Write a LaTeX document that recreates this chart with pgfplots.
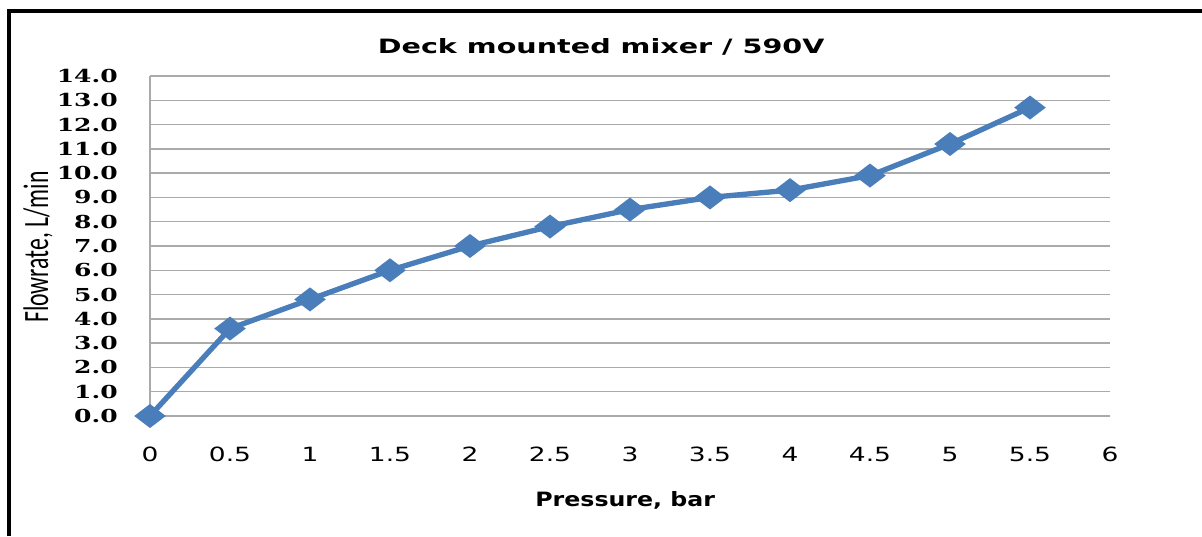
\documentclass[border=0pt]{standalone}
\usepackage{fontspec}
\usepackage{graphicx}
\usepackage{pgfplots}
\pgfplotsset{compat=1.18}
\newfontfamily\titlefont[FakeStretch=1.45]{DejaVu Sans}
\newfontfamily\xtickfont[FakeStretch=1.35]{DejaVu Sans}
\newfontfamily\ytickfont[FakeStretch=1.4]{DejaVu Serif}
\newfontfamily\xlabfont[FakeStretch=1.2]{DejaVu Sans}
\newfontfamily\ylabfont{Carlito}
\definecolor{excelblue}{HTML}{4A7EBB}
\definecolor{gridgray}{HTML}{AAAAAA}
\begin{document}
\begin{tikzpicture}
\useasboundingbox (0,0) rectangle (901.5pt,402pt);
\draw[line width=3pt, line join=miter] (6.4pt,0pt) -- (6.4pt,393.75pt) -- (902pt,393.75pt);
\begin{axis}[
  at={(112.5pt,90pt)}, anchor=south west,
  scale only axis, width=720pt, height=255pt,
  xmin=0, xmax=6, ymin=0, ymax=14,
  xtick={0,0.5,...,6}, ytick={0,1,...,14},
  xticklabels={0,0.5,1,1.5,2,2.5,3,3.5,4,4.5,5,5.5,6},
  yticklabel={\pgfmathprintnumber[fixed,fixed zerofill,precision=1]{\tick}},
  /pgf/number format/assume math mode=true,
  major tick length=0pt,
  axis lines*=left,
  axis line style={gridgray, line width=1pt},
  ymajorgrids, major grid style={gridgray, line width=1pt},
  xticklabel style={font=\xtickfont\fontsize{14.7pt}{17pt}\selectfont, anchor=north, inner sep=0pt, yshift=-23pt},
  yticklabel style={font=\ytickfont\bfseries\fontsize{13.4pt}{16pt}\selectfont, anchor=east, inner sep=0pt, xshift=-24pt},
  title={Deck mounted mixer / 590V},
  title style={font=\titlefont\bfseries\fontsize{14.8pt}{17pt}\selectfont, at={(axis description cs:0.47,1.062)}, anchor=center},
  xlabel={Pressure, bar},
  xlabel style={font=\xlabfont\bfseries\fontsize{14.8pt}{17pt}\selectfont, at={(axis description cs:0.495,-0.247)}, anchor=center},
  ylabel={\scalebox{1}[1.5]{Flowrate, L/min}},
  ylabel style={font=\ylabfont\fontsize{17.8pt}{20pt}\selectfont, at={(axis description cs:-0.1167,0.497)}, anchor=center},
  clip=false,
]
\addplot[color=excelblue, line width=4pt, mark=diamond*, mark size=6.5pt,
  mark options={xscale=1.75, fill=excelblue, draw=none}]
coordinates {
(0,0) (0.5,3.6) (1,4.8) (1.5,6.0) (2,7.0) (2.5,7.8) (3,8.5)
(3.5,9.0) (4,9.3) (4.5,9.9) (5,11.2) (5.5,12.7)
};
\end{axis}
\end{tikzpicture}
\end{document}
